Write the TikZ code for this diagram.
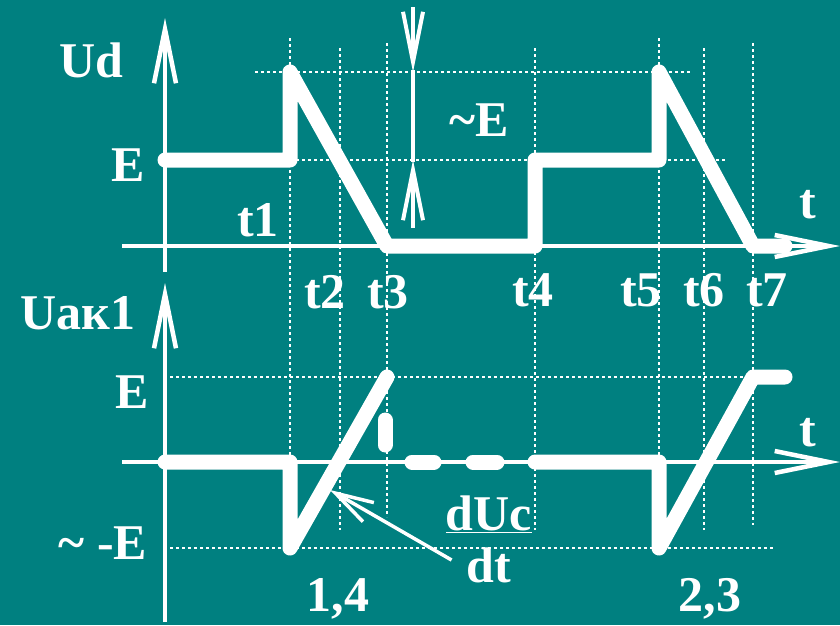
\documentclass[tikz,border=0pt]{standalone}
\usepackage{fontspec}
\setmainfont{Liberation Serif}
\usetikzlibrary{arrows.meta}
\definecolor{tealbg}{RGB}{0,128,128}

\begin{document}
\begin{tikzpicture}[x=1pt, y=-1pt,
    font=\bfseries\fontsize{50}{56}\selectfont,
    every node/.style={text=white, inner sep=0pt},
    axis/.style={white, line width=4.5pt, -{Straight Barb[length=54pt,width=22pt]}},
    gap/.style={white, line width=4pt, -{Straight Barb[length=50pt,width=20pt]}},
    wave/.style={white, line width=15pt, line cap=round, line join=round},
    grid/.style={white, line width=1.2pt, dash pattern=on 3pt off 3pt},
    pointer/.style={white, line width=3.5pt, -{Straight Barb[length=38pt,width=22pt]}}
]
\fill[tealbg] (0,0) rectangle (840,625);
\useasboundingbox (0,0) rectangle (840,625);

% grid
\foreach \x/\top/\bot in {290/38/540, 340/48/530, 387/43/517, 535/48/530, 659/38/540, 704/48/530, 753/43/525}
    \draw[grid] (\x,\top) -- (\x,\bot);
\draw[grid] (255,72) -- (690,72);
\draw[grid] (290,160) -- (727,160);
\draw[grid] (170,377) -- (750,377);
\draw[grid] (170,548) -- (773,548);

% axes
\draw[axis] (165,272) -- (165,18);
\draw[axis] (122,246) -- (840,246);
\draw[axis] (165,622) -- (165,283);
\draw[axis] (122,462) -- (840,462);

% Ud
\draw[wave] (165,160) -- (290,160) -- (290,72) -- (387,246) -- (535,246)
    -- (535,160) -- (659,160) -- (659,72) -- (753,246) -- (785,246);

% U ak1
\draw[wave] (165,462) -- (290,462) -- (290,548) -- (387,377);
\draw[wave] (385,420) -- (385,445);
\draw[wave] (412,462) -- (434,462);
\draw[wave] (473,462) -- (497,462);
\draw[wave] (535,462) -- (659,462) -- (659,548) -- (753,377) -- (785,377);

% ~E
\draw[gap] (413,7) -- (413,72);
\draw[white, line width=4pt] (413,70) -- (413,162);
\draw[gap] (413,228) -- (413,160);

% labels
\node (ud) at (91,60) {Ud};
\node (etop) at (128,165) {E};
\node (t1) at (258,220) {t1};
\node (t2) at (325,292) {t2};
\node (t3) at (388,292) {t3};
\node (t4) at (533,290) {t4};
\node (t5) at (641,290) {t5};
\node (t6) at (704,290) {t6};
\node (t7) at (767,290) {t7};
\node (ttop) at (808,205) {t};
\node (ecap) at (479,120) {\textasciitilde E};

\node (uak) at (78,313) {Uак1};
\node (elow) at (132,392) {E};
\node (melow) at (103,543) {\textasciitilde{} -E};
\node (tlow) at (808,433) {t};
\node (duc) at (489,514) {\underline{dUc}};
\node (dt) at (489,565) {dt};
\node (n14) at (338,599) {1,4};
\node (n23) at (710,599) {2,3};

\coordinate (slope) at (330,490);
\draw[pointer] ([xshift=-15pt,yshift=5pt]dt.west) -- (slope);

\end{tikzpicture}
\end{document}
